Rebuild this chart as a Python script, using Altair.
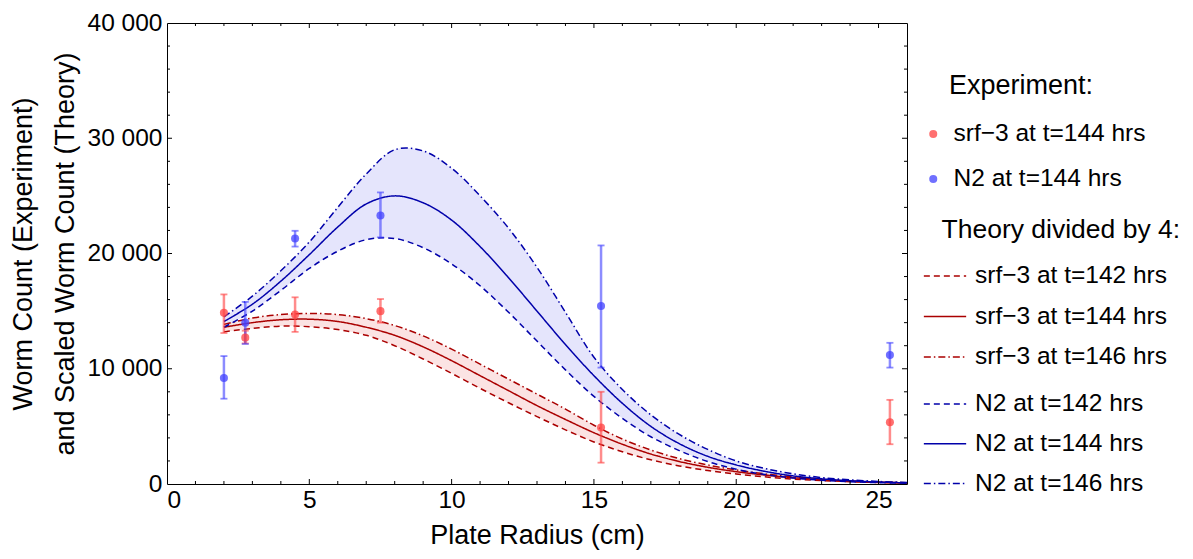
import altair as alt
import pandas as pd

# ---------------- data ----------------
theory_x = [2, 3, 4, 5, 6, 7, 8, 9, 10, 11, 12, 13, 14, 15, 16, 17, 18, 19, 20, 21, 22, 23, 24, 25, 26]
srf3_142 = [13200, 13500, 13700, 13650, 13400, 12900, 12000, 10850, 9600, 8300, 7050, 5850, 4700, 3650, 2800, 2100, 1570, 1170, 870, 620, 430, 300, 200, 130, 80]
srf3_144 = [13600, 14000, 14250, 14300, 14100, 13600, 12900, 11900, 10700, 9400, 8100, 6800, 5600, 4450, 3450, 2600, 1950, 1450, 1070, 780, 550, 380, 250, 160, 100]
srf3_146 = [13850, 14400, 14700, 14800, 14700, 14350, 13750, 12850, 11700, 10400, 9100, 7800, 6500, 5100, 3900, 2950, 2200, 1650, 1220, 880, 620, 430, 280, 180, 110]
n2_142 = [13600, 15000, 16800, 18700, 20200, 21200, 21300, 20500, 19100, 17200, 14900, 12400, 9900, 7600, 5700, 4100, 2900, 1950, 1280, 820, 520, 330, 200, 120, 70]
n2_144 = [14100, 15600, 17600, 19900, 22300, 24300, 25000, 24400, 22900, 20600, 17900, 15000, 12100, 9400, 7000, 5000, 3500, 2400, 1650, 1100, 700, 450, 280, 170, 100]
n2_146 = [14500, 16300, 18500, 21000, 24000, 26900, 29000, 28900, 27400, 25000, 22200, 18800, 14900, 11000, 8200, 6000, 4300, 3000, 2000, 1350, 880, 560, 360, 220, 130]

exp_x = [2.0, 2.75, 4.5, 7.5, 15.25, 25.4]
srf3_exp = [14850, 12700, 14700, 15000, 4900, 5350]
srf3_lo = [13100, 12200, 13200, 14000, 1850, 3450]
srf3_hi = [16450, 13300, 16200, 16050, 8000, 7300]
n2_exp = [9200, 14000, 21300, 23300, 15450, 11200]
n2_lo = [7400, 12150, 20600, 21400, 10100, 10100]
n2_hi = [11100, 15800, 21970, 25300, 20700, 12250]

exp_labels = ["srf\u22123 at t=144 hrs", "N2 at t=144 hrs"]
red_labels = ["srf\u22123 at t=142 hrs", "srf\u22123 at t=144 hrs", "srf\u22123 at t=146 hrs"]
blue_labels = ["N2 at t=142 hrs", "N2 at t=144 hrs", "N2 at t=146 hrs"]
legend_titles = ["Experiment:", "Theory divided by 4:"]

x_major = [5, 10, 15, 20, 25]
x_minor = [1, 2, 3, 4, 6, 7, 8, 9, 11, 12, 13, 14, 16, 17, 18, 19, 21, 22, 23, 24]
y_major = [10000, 20000, 30000]
y_minor = [2000, 4000, 6000, 8000, 12000, 14000, 16000, 18000, 22000, 24000, 26000, 28000,
           32000, 34000, 36000, 38000]

# ---------------- styling ----------------
W, H = 740, 461
FONT = "Liberation Sans"
RED_LINE = "#aa0000"
BLUE_LINE = "#0000aa"
RED_PT = "#ff4040"
BLUE_PT = "#4040ff"
DASHES = [[6, 4], [1, 0], [7, 3, 1.5, 3]]
INTERP = "catmull-rom"

xs = alt.Scale(domain=[0, 26], nice=False, zero=False)
ys = alt.Scale(domain=[0, 40000], nice=False, zero=False)

x_axis = alt.Axis(values=[0, 5, 10, 15, 20, 25], ticks=False, domain=False, grid=False,
                  labelFontSize=24.5, labelFont=FONT, labelColor="black", labelPadding=4,
                  title="Plate Radius (cm)", titleFont=FONT, titleFontSize=27,
                  titleFontWeight="normal", titleColor="black", titlePadding=11)
y_axis = alt.Axis(values=[0, 10000, 20000, 30000, 40000], ticks=False, domain=False, grid=False,
                  labelExpr="replace(format(datum.value, ','), ',', ' ')",
                  labelFontSize=24.5, labelFont=FONT, labelColor="black", labelPadding=5,
                  title=["Worm Count (Experiment)", "and Scaled Worm Count (Theory)"],
                  titleFont=FONT, titleFontSize=27, titleFontWeight="normal",
                  titleColor="black", titlePadding=8, titleLineHeight=42)


def X():
    return alt.X("x:Q", scale=xs, axis=x_axis)


def Y(field):
    return alt.Y(field, type="quantitative", scale=ys, axis=y_axis)


def long_df(labels, series):
    rows = []
    for lab, vals in zip(labels, series):
        for xv, yv in zip(theory_x, vals):
            rows.append({"x": xv, "y": yv, "series": lab})
    return pd.DataFrame(rows)


red_df = long_df(red_labels, [srf3_142, srf3_144, srf3_146])
blue_df = long_df(blue_labels, [n2_142, n2_144, n2_146])
band_red = pd.DataFrame({"x": theory_x, "lo": srf3_142, "hi": srf3_146})
band_blue = pd.DataFrame({"x": theory_x, "lo": n2_142, "hi": n2_146})
exp_df = pd.concat([
    pd.DataFrame({"x": exp_x, "y": srf3_exp, "lo": srf3_lo, "hi": srf3_hi, "series": exp_labels[0]}),
    pd.DataFrame({"x": exp_x, "y": n2_exp, "lo": n2_lo, "hi": n2_hi, "series": exp_labels[1]}),
], ignore_index=True)

common_leg = dict(orient="none", padding=0, title=None, labelFont=FONT,
                  labelFontSize=24.5, labelColor="black", clipHeight=24, labelLimit=400)

leg_exp = alt.Legend(legendX=754, legendY=99, rowPadding=20, labelOffset=8,
                     symbolType="circle", symbolSize=65, symbolStrokeWidth=0,
                     symbolOpacity=0.75, **common_leg)
leg_red = alt.Legend(legendX=756, legendY=241, rowPadding=15.5, labelOffset=8,
                     symbolType="stroke", symbolSize=1790, symbolStrokeWidth=1.5, **common_leg)
leg_blue = alt.Legend(legendX=756, legendY=369, rowPadding=14.75, labelOffset=8,
                      symbolType="stroke", symbolSize=1790, symbolStrokeWidth=1.5, **common_leg)

# bands
band_r = alt.Chart(band_red).mark_area(color="#dd0000", opacity=0.11, interpolate=INTERP).encode(
    x=X(), y=Y("lo"), y2="hi")
band_b = alt.Chart(band_blue).mark_area(color="#0000dd", opacity=0.1, interpolate=INTERP).encode(
    x=X(), y=Y("lo"), y2="hi")

# theory lines
red_lines = alt.Chart(red_df).mark_line(strokeWidth=1.5, interpolate=INTERP).encode(
    x=X(), y=Y("y"),
    color=alt.Color("series:N", scale=alt.Scale(domain=red_labels, range=[RED_LINE] * 3), legend=leg_red),
    strokeDash=alt.StrokeDash("series:N", scale=alt.Scale(domain=red_labels, range=DASHES), legend=leg_red),
)
blue_lines = alt.Chart(blue_df).mark_line(strokeWidth=1.5, interpolate=INTERP).encode(
    x=X(), y=Y("y"),
    color=alt.Color("series:N", scale=alt.Scale(domain=blue_labels, range=[BLUE_LINE] * 3), legend=leg_blue),
    strokeDash=alt.StrokeDash("series:N", scale=alt.Scale(domain=blue_labels, range=DASHES), legend=leg_blue),
)

pt_scale = alt.Scale(domain=exp_labels, range=[RED_PT, BLUE_PT])
err = alt.Chart(exp_df).mark_rule(strokeWidth=2.5, opacity=0.6).encode(
    x=X(), y=Y("lo"), y2="hi", color=alt.Color("series:N", scale=pt_scale, legend=None))
cap_lo = alt.Chart(exp_df).mark_tick(orient="horizontal", size=7, thickness=1.8, opacity=0.6).encode(
    x=X(), y=Y("lo"), color=alt.Color("series:N", scale=pt_scale, legend=None))
cap_hi = alt.Chart(exp_df).mark_tick(orient="horizontal", size=7, thickness=1.8, opacity=0.6).encode(
    x=X(), y=Y("hi"), color=alt.Color("series:N", scale=pt_scale, legend=None))
points = alt.Chart(exp_df).mark_circle(size=65, opacity=0.75).encode(
    x=X(), y=Y("y"), color=alt.Color("series:N", scale=pt_scale, legend=leg_exp))

# legend headings
head_exp = alt.Chart(pd.DataFrame({"t": [legend_titles[0]]})).mark_text(
    align="left", baseline="middle", font=FONT, fontSize=27, color="black").encode(
    text="t:N", x=alt.value(782), y=alt.value(62.8))
head_th = alt.Chart(pd.DataFrame({"t": [legend_titles[1]]})).mark_text(
    align="left", baseline="middle", font=FONT, fontSize=26.5, color="black").encode(
    text="t:N", x=alt.value(774.5), y=alt.value(206.5))


# frame ticks (inward)
def xticks(vals, length):
    d = pd.DataFrame({"x": vals})
    b = alt.Chart(d).mark_rule(color="black", strokeWidth=1).encode(x=X(), y=alt.value(H), y2=alt.value(H - length))
    t = alt.Chart(d).mark_rule(color="black", strokeWidth=1).encode(x=X(), y=alt.value(0), y2=alt.value(length))
    return [b, t]


def yticks(vals, length):
    d = pd.DataFrame({"y": vals})
    l = alt.Chart(d).mark_rule(color="black", strokeWidth=1).encode(y=Y("y"), x=alt.value(0), x2=alt.value(length))
    r = alt.Chart(d).mark_rule(color="black", strokeWidth=1).encode(y=Y("y"), x=alt.value(W), x2=alt.value(W - length))
    return [l, r]


ticks = xticks(x_major, 5) + xticks(x_minor, 3) + yticks(y_major, 5) + yticks(y_minor, 3)

chart = alt.layer(
    band_r, band_b, red_lines, blue_lines, err, cap_lo, cap_hi, points, head_exp, head_th, *ticks
).resolve_scale(
    color="independent", strokeDash="independent"
).properties(
    width=W, height=H,
    autosize=alt.AutoSizeParams(type="none"),
    padding={"left": 159, "top": 15, "right": 277, "bottom": 66},
).configure(font=FONT).configure_view(stroke="black", strokeWidth=1)

chart.save("out.html", embed_options={"renderer": "svg", "actions": False})
